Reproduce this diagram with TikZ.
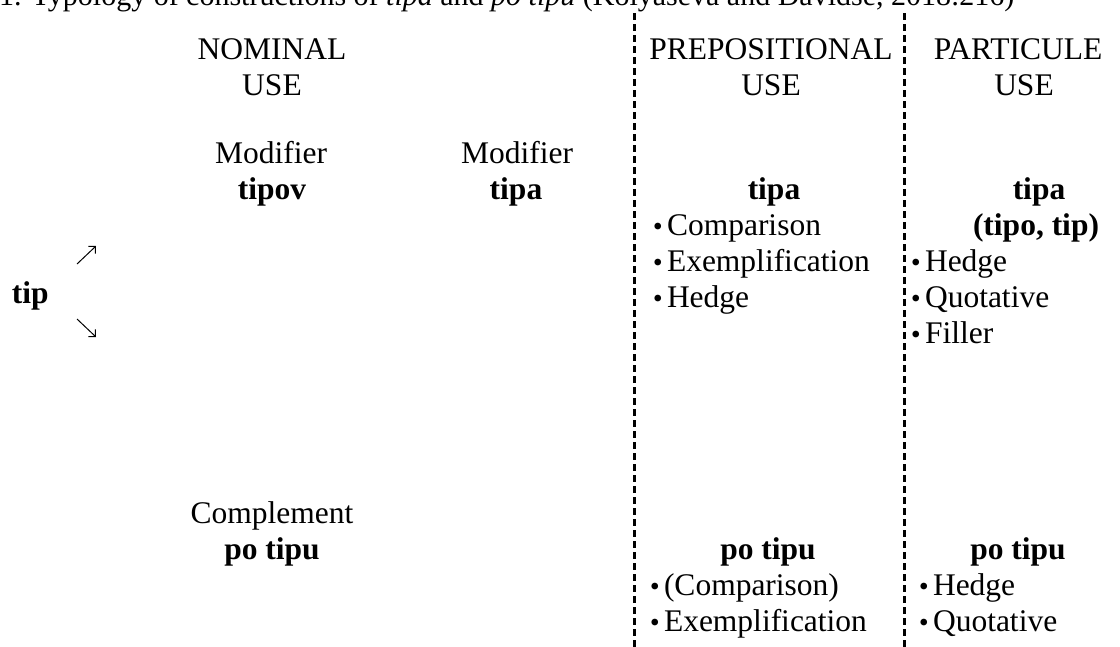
\documentclass[tikz,border=0pt]{standalone}
\usepackage{fontspec}
\setmainfont{Liberation Serif}
\newfontfamily\cjkfont{Noto Sans CJK JP}
\usetikzlibrary{arrows.meta}
\newcommand{\bul}{\makebox[18pt]{\raisebox{-3pt}{\cjkfont ・}}}
\tikzset{
  txt/.style={inner sep=0pt, outer sep=0pt, anchor=base, font=\fontsize{31.5}{36}\selectfont},
  bld/.style={txt, font=\fontsize{31.5}{36}\selectfont\bfseries},
  lft/.style={txt, anchor=base west},
  ttl/.style={inner sep=0pt, anchor=base west, font=\fontsize{30}{34}\selectfont},
  divider/.style={line width=3pt, dash pattern=on 6.5pt off 4.5pt},
  arr/.style={line width=1pt, -{Straight Barb[length=5pt,width=10pt]}}
}
\begin{document}
\begin{tikzpicture}[x=1pt,y=-1pt]
\useasboundingbox (0,0) rectangle (1120,646);
\begin{scope}
\clip (0,0) rectangle (1120,646);
\node[ttl] (title) at (-1,5) {1. Typology of constructions of \textit{tipa} and \textit{po tipu} (Kolyaseva and Davidse, 2018:216)};
% dividers
\coordinate (d1t) at (634,13); \coordinate (d1b) at (634,650);
\coordinate (d2t) at (904,13); \coordinate (d2b) at (904,650);
\draw[divider] (d1t) -- (d1b);
\draw[divider] (d2t) -- (d2b);
\end{scope}
% headers
\node[txt] (h1a) at (272,59) {NOMINAL};
\node[txt] (h1b) at (272,95) {USE};
\node[txt] (h2a) at (771,59) {PREPOSITIONAL};
\node[txt] (h2b) at (771,95) {USE};
\node[txt] (h3a) at (1018,59) {PARTICULE};
\node[txt] (h3b) at (1024,95) {USE};
% nominal
\node[txt] (m1) at (271,163) {Modifier};
\node[bld] (tipov) at (272,199) {tipov};
\node[txt] (m2) at (517,163) {Modifier};
\node[bld] (tipaN) at (516,199) {tipa};
\node[txt] (comp) at (272,523) {Complement};
\node[bld] (potipuN) at (272,559) {po tipu};
% tip and arrows
\node[bld, anchor=base west] (tip) at (12,303) {tip};
\coordinate (a1s) at (77,264); \coordinate (a1e) at (96,246);
\coordinate (a2s) at (77,319); \coordinate (a2e) at (96,337);
\draw[arr] (a1s) -- (a1e);
\draw[arr] (a2s) -- (a2e);
% prepositional
\node[bld] (tipaP) at (774,199) {tipa};
\node[lft] (p1) at (649,235) {\bul Comparison};
\node[lft] (p2) at (649,271) {\bul Exemplification};
\node[lft] (p3) at (649,307) {\bul Hedge};
\node[bld] (potipuP) at (768,559) {po tipu};
\node[lft] (p4) at (646,595) {\bul (Comparison)};
\node[lft] (p5) at (646,631) {\bul Exemplification};
% particule
\node[bld] (tipaQ) at (1039,199) {tipa};
\node[bld] (tipoQ) at (1036,235) {(tipo, tip)};
\node[lft] (q1) at (907,271) {\bul Hedge};
\node[lft] (q2) at (907,307) {\bul Quotative};
\node[lft] (q3) at (907,343) {\bul Filler};
\node[bld] (potipuQ) at (1018,559) {po tipu};
\node[lft] (q4) at (915,595) {\bul Hedge};
\node[lft] (q5) at (915,631) {\bul Quotative};
\end{tikzpicture}
\end{document}
